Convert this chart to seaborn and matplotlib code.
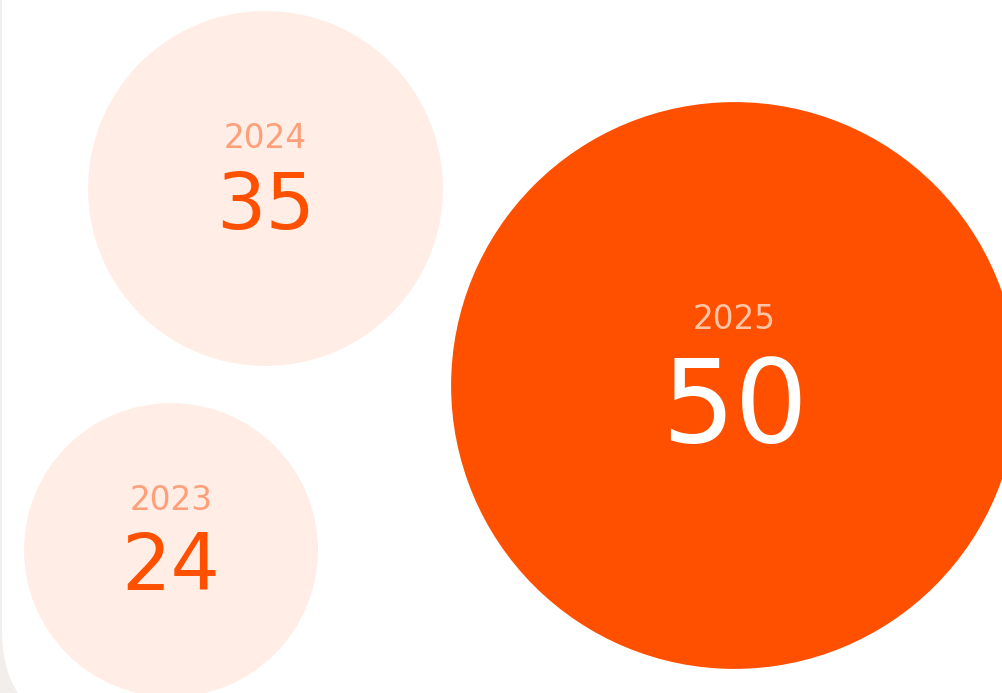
import numpy as np
import pandas as pd
import matplotlib
matplotlib.use("Agg")
import matplotlib.pyplot as plt
from matplotlib.patches import FancyBboxPatch
import seaborn as sns

# data
years = ["2023", "2024", "2025"]
values = [24, 35, 50]
highlight = "2025"

# layout (pixel space of the card)
centers_x = [171, 265.5, 734.5]
centers_y = [550, 188.5, 385.5]
base_k = 30.0          # radius px per sqrt(value)
highlight_scale = 1.336

ORANGE = "#FF5000"
LIGHT = "#FFEDE6"
GRAY_BG = "#F1EEEB"

sns.set_theme(style="white")
plt.rcParams["font.family"] = ["DejaVu Sans"]

W, H, DPI = 1003, 693, 100
fig = plt.figure(figsize=(W / DPI, H / DPI), dpi=DPI)
fig.patch.set_facecolor(GRAY_BG)
ax = fig.add_axes([0, 0, 1, 1])
ax.set_xlim(0, W)
ax.set_ylim(H, 0)
ax.set_axis_off()

# white card with rounded bottom-left corner
card = FancyBboxPatch((2, -300), 1400, 1028,
                      boxstyle="round,pad=0,rounding_size=98",
                      facecolor="white", edgecolor="none", zorder=0)
ax.add_patch(card)

df = pd.DataFrame({"year": years, "value": values,
                   "x": centers_x, "y": centers_y})
df["radius"] = [base_k * np.sqrt(v) * (highlight_scale if y == highlight else 1.0)
                for y, v in zip(df["year"], df["value"])]
# marker size in points^2 (diameter in points squared)
df["s"] = (2 * df["radius"] * 72 / DPI) ** 2
palette = {y: (ORANGE if y == highlight else LIGHT) for y in years}

sns.scatterplot(data=df, x="x", y="y", hue="year", palette=palette,
                s=df["s"].tolist(), linewidth=0, edgecolor="none",
                legend=False, ax=ax, zorder=2)
ax.set_xlim(0, W)
ax.set_ylim(H, 0)

for _, row in df.iterrows():
    big = row["year"] == highlight
    off = 56.5 if big else 40
    num_size = 83 if big else 56
    ax.text(row["x"], row["y"] - off, row["year"], ha="center", va="baseline",
            fontsize=23.5, color="#FFC3A6" if big else "#FF9F7A", zorder=3)
    ax.text(row["x"], row["y"] + off, str(row["value"]), ha="center", va="baseline",
            fontsize=num_size, color="white" if big else ORANGE, zorder=3)

fig.savefig("out.png", dpi=DPI, facecolor=fig.get_facecolor())
